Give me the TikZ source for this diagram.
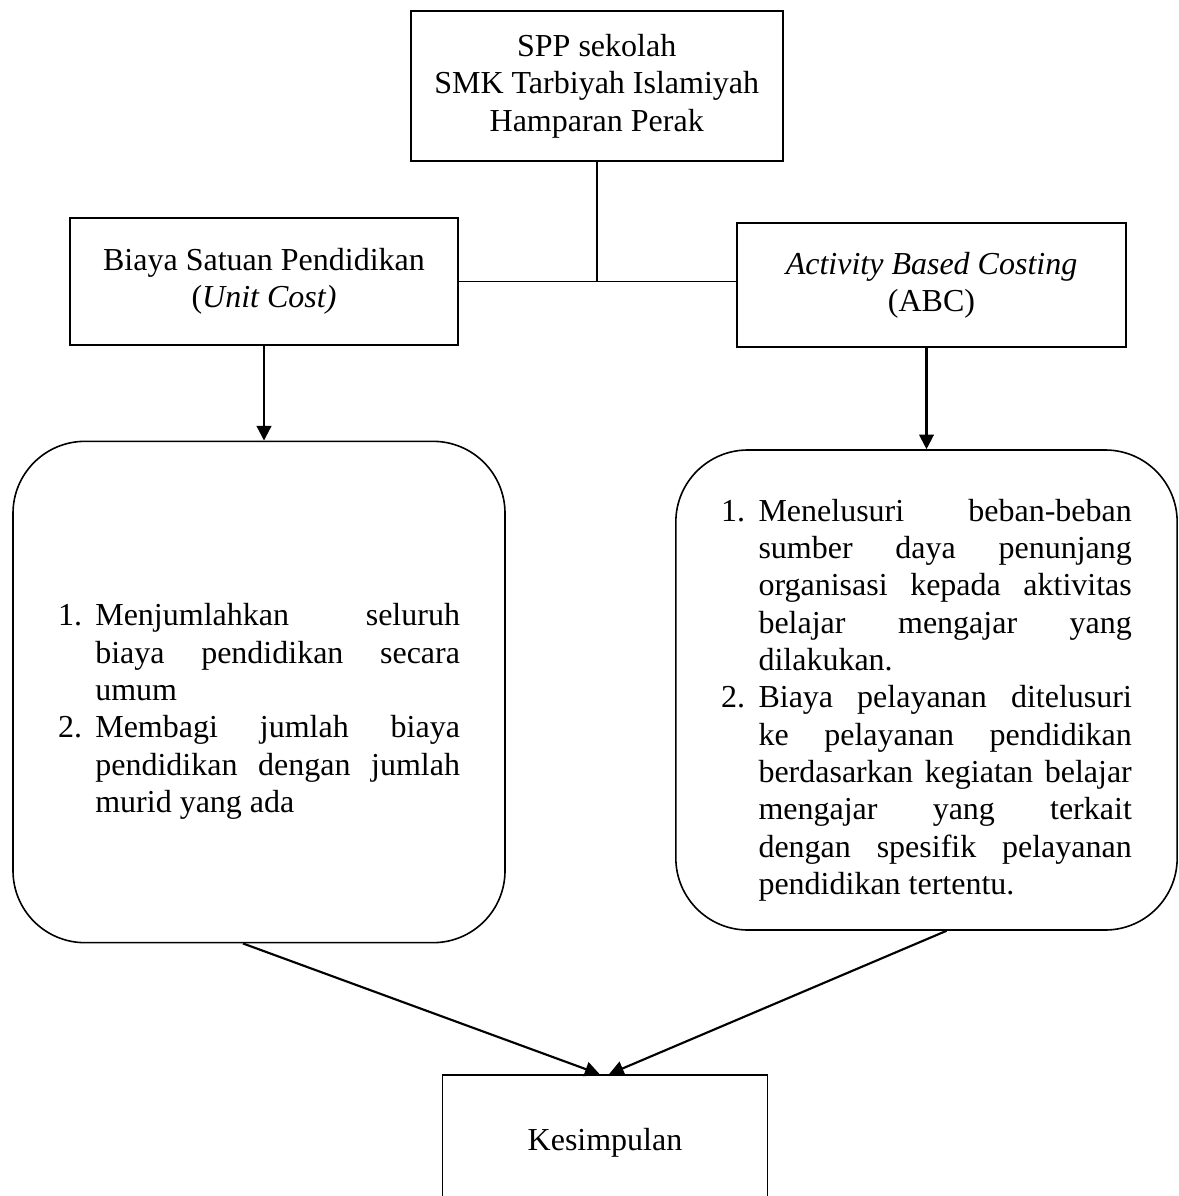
\documentclass[tikz,border=0pt]{standalone}
\usepackage{fontspec}
\setmainfont{Liberation Serif}
\usepackage{enumitem}
\usetikzlibrary{positioning,arrows.meta}
\newcommand{\boxfont}{\fontsize{12}{14}\selectfont}
\newcommand{\listfont}{\boxfont\hyphenpenalty 10000 \tolerance 10000 }
\newcommand{\stepitems}{\begin{enumerate}[leftmargin=14pt,labelsep=5pt,labelwidth=9pt,nosep]}
\tikzstyle{block} = [rectangle, draw, line width=0.6pt, align=center,
    inner sep=0pt, font=\boxfont]
\tikzstyle{roundbox} = [rectangle, draw, line width=0.6pt, rounded corners=27pt,
    inner sep=0pt, align=justify, font=\listfont]
\tikzstyle{line} = [draw, line width=0.6pt]
\tikzstyle{arrow} = [draw, line width=0.8pt, -{Triangle[length=5.5pt,width=5.5pt]}]

\begin{document}
\begin{tikzpicture}[x=0.375pt, y=-0.375pt]
    \useasboundingbox (0,0) rectangle (1178,1196);
    % Place nodes
    \node [block, minimum width=139.5pt, minimum height=56.2pt] (spp) at (596.7,86)
        {SPP sekolah\\SMK Tarbiyah Islamiyah\\Hamparan Perak};
    \node [block, minimum width=145.5pt, minimum height=47.6pt] (uc) at (264,281.5)
        {Biaya Satuan Pendidikan\\(\textit{Unit Cost)}};
    \node [block, minimum width=145.9pt, minimum height=46.5pt] (abc) at (931.5,285)
        {\textit{Activity Based Costing}\\(ABC)};
    \node [roundbox, text width=150.75pt, minimum width=184.5pt, minimum height=188pt] (ucbox) at (259,692)
        {\vspace*{9pt}\stepitems
         \item Menjumlahkan seluruh\linebreak biaya pendidikan secara\linebreak umum
         \item Membagi jumlah biaya\linebreak pendidikan dengan jumlah\linebreak murid yang ada
         \end{enumerate}};
    \node [roundbox, text width=154pt, minimum width=188pt, minimum height=180pt] (abcbox) at (926.5,690)
        {\vspace*{2pt}\stepitems
         \item Menelusuri beban-beban\linebreak sumber daya penunjang\linebreak organisasi kepada aktivitas\linebreak belajar mengajar yang\linebreak dilakukan.
         \item Biaya pelayanan ditelusuri\linebreak ke pelayanan pendidikan\linebreak berdasarkan kegiatan belajar\linebreak mengajar yang terkait\linebreak dengan spesifik pelayanan\linebreak pendidikan tertentu.
         \end{enumerate}};
    \node [block, minimum width=122pt, minimum height=51pt] (kes) at (605,1143) {Kesimpulan};
    % Draw edges
    \path [line] (spp.south) -- (spp.south |- uc.east);
    \path [line] (uc.east) -- (uc.east -| abc.west);
    \path [arrow] (uc.south) -- (uc.south |- ucbox.north);
    \path [arrow] (abcbox.north |- abc.south) -- (abcbox.north);
    \path [arrow] ([xshift=-6pt]ucbox.south) -- ([xshift=-2pt]kes.north);
    \path [arrow] ([xshift=7.5pt]abcbox.south) -- ([xshift=1.5pt]kes.north);
\end{tikzpicture}
\end{document}
